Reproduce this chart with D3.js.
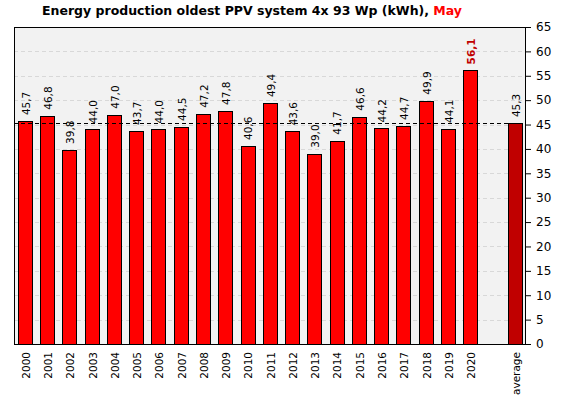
<!DOCTYPE html>
<html>
<head>
<meta charset="utf-8">
<script src="https://cdn.jsdelivr.net/npm/d3@7"></script>
<style>
  body { margin: 0; background: #fff; }
  svg { display: block; font-family: "DejaVu Sans", Verdana, sans-serif; }
</style>
</head>
<body>
<div id="chart"></div>
<script>
document.addEventListener('DOMContentLoaded', function () {

  const years = ['2000', '2001', '2002', '2003', '2004', '2005', '2006', '2007', '2008', '2009',
    '2010', '2011', '2012', '2013', '2014', '2015', '2016', '2017', '2018', '2019', '2020'];
  const values = [45.7, 46.8, 39.8, 44.0, 47.0, 43.7, 44.0, 44.5, 47.2, 47.8,
    40.6, 49.4, 43.6, 39.0, 41.7, 46.6, 44.2, 44.7, 49.9, 44.1, 56.1];
  const averageValue = 45.3;
  const yTicks = [0, 5, 10, 15, 20, 25, 30, 35, 40, 45, 50, 55, 60, 65];

  const width = 561, height = 397;
  const margin = { top: 27, right: 35, bottom: 53, left: 14 };

  const data = years.map((y, i) => ({ key: y, value: values[i], avg: false }));
  data.push({ key: 'average', value: averageValue, avg: true });
  const maxValue = d3.max(values);

  // empty slot between 2020 and average
  const domain = years.concat([' ', 'average']);

  const svg = d3.select('#chart')
    .append('svg')
    .attr('width', width)
    .attr('height', height);

  const x = d3.scaleBand()
    .domain(domain)
    .range([margin.left, width - margin.right])
    .paddingInner(0.35)
    .paddingOuter(0.175);

  const y = d3.scaleLinear()
    .domain([0, 65])
    .range([height - margin.bottom, margin.top]);

  // plot background
  svg.append('rect')
    .attr('x', margin.left)
    .attr('y', margin.top)
    .attr('width', width - margin.right - margin.left)
    .attr('height', height - margin.bottom - margin.top)
    .attr('fill', '#f2f2f2');

  // grid
  svg.append('g')
    .selectAll('line')
    .data(yTicks.slice(1, -1))
    .enter()
    .append('line')
    .attr('x1', margin.left)
    .attr('x2', width - margin.right)
    .attr('y1', d => Math.round(y(d)) + 0.5)
    .attr('y2', d => Math.round(y(d)) + 0.5)
    .attr('stroke', '#d8d8d8')
    .attr('stroke-dasharray', '4,3');

  // bars
  svg.append('g')
    .selectAll('rect')
    .data(data)
    .enter()
    .append('rect')
    .attr('x', d => Math.round(x(d.key)) + 0.5)
    .attr('y', d => Math.round(y(d.value)) + 0.5)
    .attr('width', Math.round(x.bandwidth()))
    .attr('height', d => Math.round(y(0)) - Math.round(y(d.value)))
    .attr('fill', d => d.avg ? '#c00000' : '#ff0000')
    .attr('stroke', '#000')
    .attr('stroke-width', 1);

  // value labels
  svg.append('g')
    .selectAll('text')
    .data(data)
    .enter()
    .append('text')
    .attr('transform', d => `translate(${x(d.key) + x.bandwidth() / 2 + 1},${y(d.value) - 6}) rotate(-90)`)
    .attr('dy', '0.35em')
    .attr('text-anchor', 'start')
    .style('font-size', '10.5px')
    .style('font-weight', d => (!d.avg && d.value === maxValue) ? 'bold' : 'normal')
    .attr('fill', d => (!d.avg && d.value === maxValue) ? '#c00000' : '#000')
    .text(d => d.value.toFixed(1).replace('.', ','));

  // average line
  svg.append('line')
    .attr('x1', margin.left)
    .attr('x2', width - margin.right)
    .attr('y1', Math.round(y(averageValue)) + 0.5)
    .attr('y2', Math.round(y(averageValue)) + 0.5)
    .attr('stroke', '#000')
    .attr('stroke-dasharray', '4,3');

  // frame
  svg.append('rect')
    .attr('x', margin.left + 0.5)
    .attr('y', margin.top + 0.5)
    .attr('width', width - margin.right - margin.left - 1)
    .attr('height', height - margin.bottom - margin.top)
    .attr('fill', 'none')
    .attr('stroke', '#000');

  // right axis
  const yAxis = svg.append('g')
    .attr('transform', `translate(${width - margin.right},0)`)
    .call(d3.axisRight(y).tickValues(yTicks).tickSize(5).tickPadding(5));
  yAxis.select('.domain').remove();
  yAxis.selectAll('text').style('font-size', '12px').attr('fill', '#000')
    .style('font-family', '"DejaVu Sans", Verdana, sans-serif');

  // x labels
  svg.append('g')
    .selectAll('text')
    .data(data)
    .enter()
    .append('text')
    .attr('transform', d => `translate(${x(d.key) + x.bandwidth() / 2 + 1},${height - margin.bottom + 8}) rotate(-90)`)
    .attr('dy', '0.35em')
    .attr('text-anchor', 'end')
    .style('font-size', '10.5px')
    .attr('fill', '#000')
    .text(d => d.key);

  // title
  const title = svg.append('text')
    .attr('x', 252)
    .attr('y', 15)
    .attr('text-anchor', 'middle')
    .style('font-size', '12.5px')
    .style('font-weight', 'bold');
  title.append('tspan').attr('fill', '#000').text('Energy production oldest PPV system 4x 93 Wp (kWh),  ');
  title.append('tspan').attr('fill', '#ff0000').text('May');
});
</script>
</body>
</html>
